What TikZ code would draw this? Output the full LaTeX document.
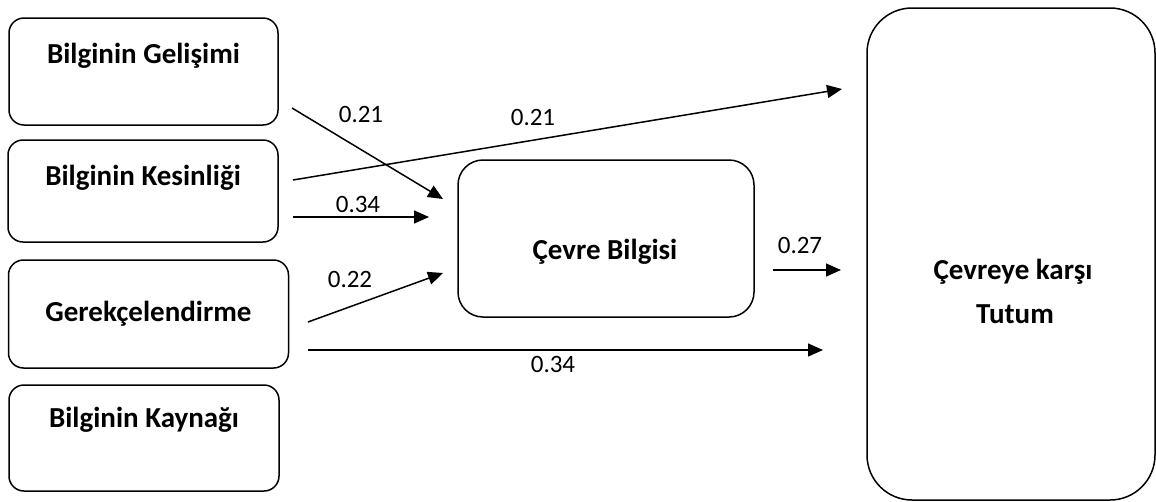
\documentclass[tikz,border=0pt]{standalone}
\usepackage{fontspec}
\setmainfont{Carlito}
\usetikzlibrary{arrows.meta}
\begin{document}
\begin{tikzpicture}[x=1pt,y=-1pt,
  box/.style={draw, line width=1.5pt, rounded corners=15pt, inner sep=0pt},
  lbl/.style={font=\fontsize{29}{35}\selectfont\bfseries, anchor=base, inner sep=0pt},
  num/.style={font=\fontsize{25}{30}\selectfont, anchor=base, inner sep=0pt},
  arr/.style={line width=1.5pt, -{Triangle[length=15pt,width=13pt]}}]
\useasboundingbox (0,0) rectangle (1156,501);
% left boxes
\node[box, minimum width=269pt, minimum height=107pt] (b1) at (143.5,71.5) {};
\node[box, minimum width=270pt, minimum height=102pt] (b2) at (143,191) {};
\node[box, minimum width=280pt, minimum height=108pt] (b3) at (148.5,314) {};
\node[box, minimum width=270pt, minimum height=106pt] (b4) at (144,438) {};
\node[lbl] (t1) at (143.5,63) {Bilginin Gelişimi};
\node[lbl] (t2) at (143,185) {Bilginin Kesinliği};
\node[lbl] (t3) at (148.5,321) {Gerekçelendirme};
\node[lbl] (t4) at (144,427) {Bilginin Kaynağı};
% middle box
\node[box, rounded corners=25pt, minimum width=296pt, minimum height=157pt] (cb) at (606,238.5) {};
\node[lbl] (tcb) at (605,259) {Çevre Bilgisi};
% right box
\node[box, rounded corners=45pt, minimum width=288pt, minimum height=492pt] (ct) at (1011,254) {};
\node[lbl] (tct1) at (1013,279) {Çevreye karşı};
\node[lbl] (tct2) at (1015,323) {Tutum};
% arrow end points
\coordinate (s1) at (292,108);  \coordinate (e1) at (443,199);
\coordinate (s2) at (293,180);  \coordinate (e2) at (842,89);
\coordinate (s3) at (293,217);  \coordinate (e3) at (429,217);
\coordinate (s4) at (308,322);  \coordinate (e4) at (443,273);
\coordinate (s5) at (308,350);  \coordinate (e5) at (823,350);
\coordinate (s6) at (773,270);  \coordinate (e6) at (841,270);
\draw[arr] (s1) -- (e1);
\draw[arr] (s2) -- (e2);
\draw[arr] (s3) -- (e3);
\draw[arr] (s4) -- (e4);
\draw[arr] (s5) -- (e5);
\draw[arr] (s6) -- (e6);
% labels
\node[num] (n1) at (361,122) {0.21};
\node[num] (n2) at (533,125) {0.21};
\node[num] (n3) at (358,212) {0.34};
\node[num] (n4) at (350,287) {0.22};
\node[num] (n5) at (553,372) {0.34};
\node[num] (n6) at (800,253) {0.27};
\end{tikzpicture}
\end{document}
